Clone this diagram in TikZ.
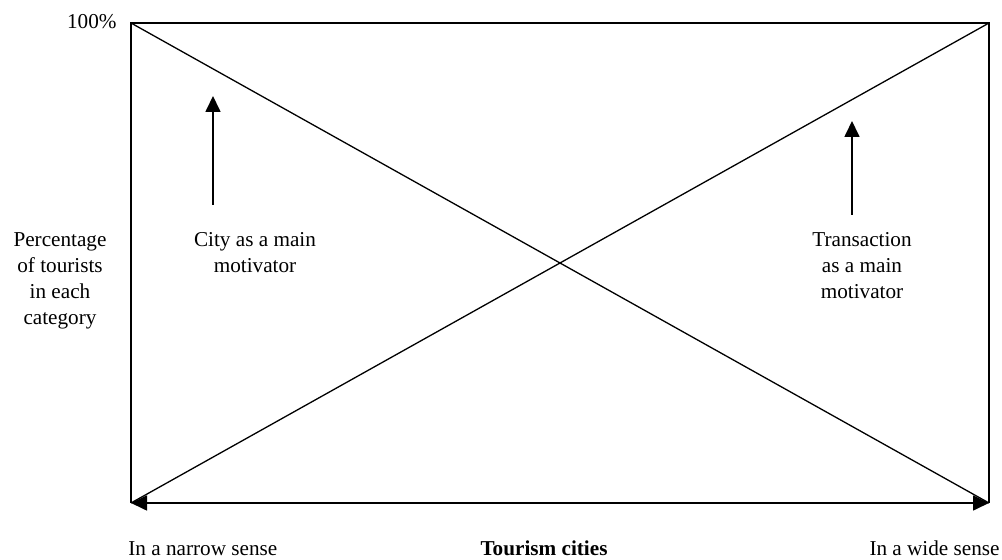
\documentclass[tikz,border=0pt]{standalone}
\usepackage{fontspec}
\setmainfont{Liberation Serif}
\usetikzlibrary{arrows.meta,positioning}
\begin{document}
\begin{tikzpicture}[x=0.5pt,y=-0.5pt,
    lbl/.style={align=center, font=\fontsize{10.6}{13}\selectfont, inner sep=0pt},
    frame/.style={line width=0.85pt},
    tip/.style={-{Triangle[width=7.5pt,length=8pt]}, line width=0.85pt},
    ]
\useasboundingbox (0,0) rectangle (1002,560);

\coordinate (tl) at (131,23);
\coordinate (tr) at (989,23);
\coordinate (bl) at (131,503);
\coordinate (br) at (989,503);

\draw[frame] (bl) -- (tl) -- (tr) -- (br);
\draw[line width=0.65pt] (tl) -- (br) (bl) -- (tr);
\draw[tip, {Triangle[width=7.5pt,length=8pt]}-{Triangle[width=7.5pt,length=8pt]}] (bl) -- (br);

\node[lbl, anchor=base east] (top) at (117,29) {100\%};
\node[lbl, anchor=north] (yaxis) at (60,232) {Percentage\\of tourists\\in each\\category};
\node[lbl, anchor=north] (city) at (255,232) {City as a main\\motivator};
\node[lbl, anchor=north] (trans) at (862,232) {Transaction\\as a main\\motivator};

\coordinate (c1) at (213,205);
\coordinate (c1t) at (213,96);
\coordinate (c2) at (852,215);
\coordinate (c2t) at (852,121);
\draw[tip] (c1) -- (c1t);
\draw[tip] (c2) -- (c2t);

\node[lbl, anchor=base west] (narrow) at (128,556) {In a narrow sense};
\node[lbl, anchor=base, font=\fontsize{10.6}{13}\selectfont\bfseries] (xaxis) at (544,556) {Tourism cities};
\node[lbl, anchor=base east] (wide) at (1000,556) {In a wide sense};
\end{tikzpicture}
\end{document}
